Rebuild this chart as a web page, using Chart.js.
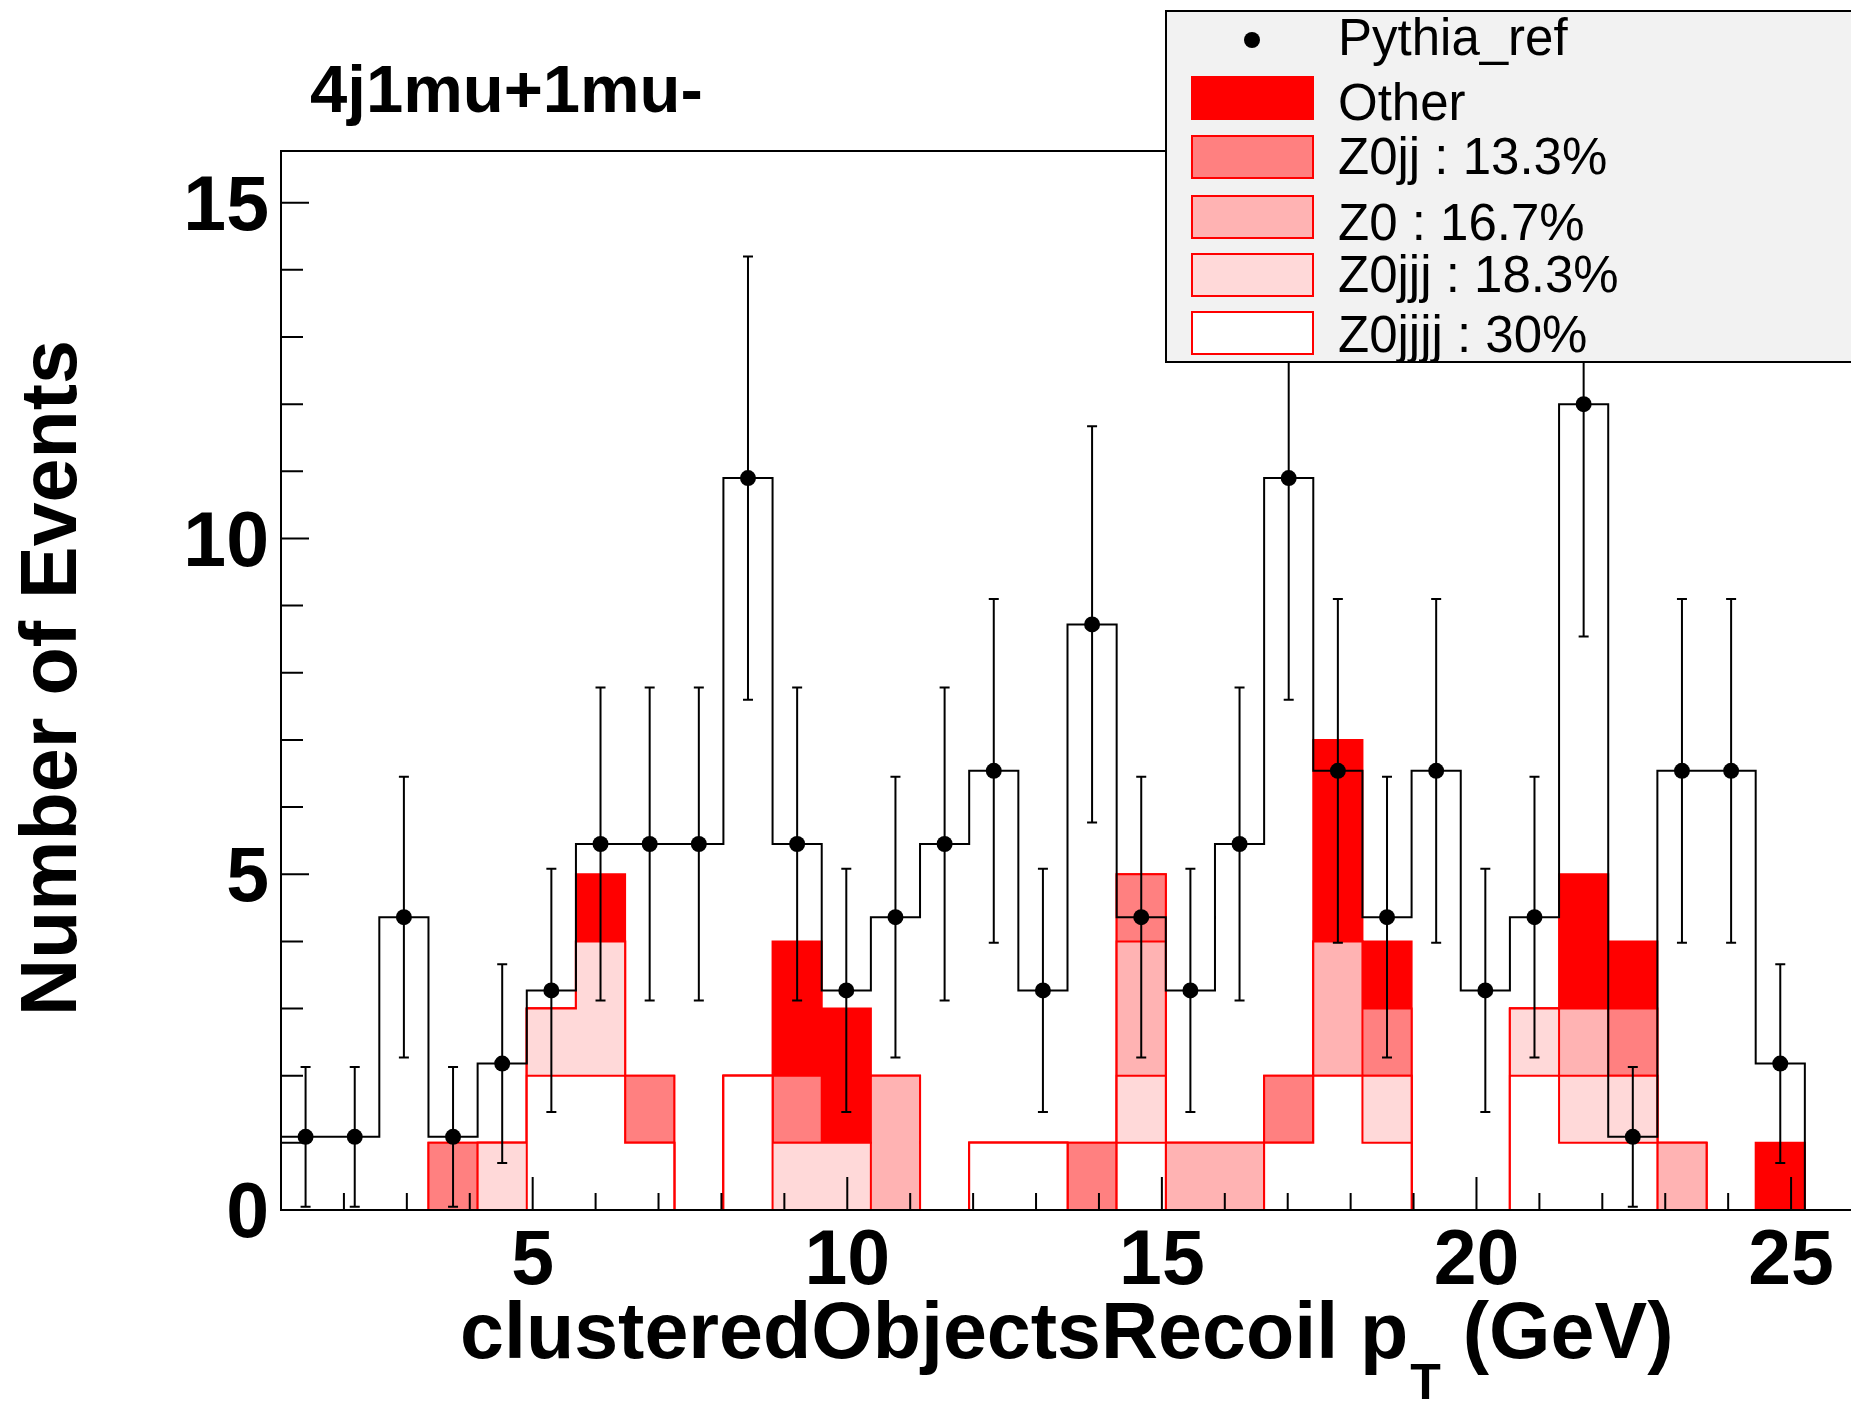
<!DOCTYPE html>
<html><head><meta charset="utf-8">
<script src="https://cdn.jsdelivr.net/npm/chart.js@4.4.1/dist/chart.umd.min.js"></script>
<style>
html,body{margin:0;padding:0;background:#fff;overflow:hidden;}
#c{position:absolute;left:0;top:0;width:1854px;height:1402px;}
</style></head><body>
<canvas id="c" width="1854" height="1402"></canvas>
<script>
// ---------------- data ----------------
const binLow = 1, binHigh = 26, nBins = 32;
const xTickValues = [5, 10, 15, 20, 25];
const yTickValues = [0, 5, 10, 15];
const yMax = 15.77;

// Pythia_ref (points + black histogram)
const dataValues = [1.09,1.09,4.36,1.09,2.18,3.27,5.45,5.45,5.45,10.9,5.45,3.27,4.36,5.45,6.54,3.27,8.72,4.36,3.27,5.45,10.9,6.54,4.36,6.54,3.27,4.36,12.0,1.09,6.54,6.54,2.18,0];
const dataErrors = [1.04,1.04,2.09,1.04,1.48,1.81,2.33,2.33,2.33,3.30,2.33,1.81,2.09,2.33,2.56,1.81,2.95,2.09,1.81,2.33,3.30,2.56,2.09,2.56,1.81,2.09,3.46,1.04,2.56,2.56,1.48,0];

// stacked MC components (bottom to top)
const z0jjjj = [0,0,0,0,0,2,2,1,0,2, 0,0,0,0,1,1,0,1,0,0, 1,2,1,0,0,2,1,1,0,0, 0,0];
const z0jjj  = [0,0,0,0,1,1,2,0,0,0, 1,1,0,0,0,0,0,1,0,0, 0,0,1,0,0,1,1,1,0,0, 0,0];
const z0     = [0,0,0,0,0,0,0,0,0,0, 0,0,2,0,0,0,0,2,1,1, 0,2,0,0,0,0,1,0,1,0, 0,0];
const z0jj   = [0,0,0,1,0,0,0,1,0,0, 1,0,0,0,0,0,1,1,0,0, 1,0,1,0,0,0,0,1,0,0, 0,0];
const other  = [0,0,0,0,0,0,1,0,0,0, 2,2,0,0,0,0,0,0,0,0, 0,3,1,0,0,0,2,1,0,0, 1,0];

const stackNames  = ['Z0jjjj', 'Z0jjj', 'Z0', 'Z0jj', 'Other'];
const stackValues = [z0jjjj, z0jjj, z0, z0jj, other];
const stackColors = ['#ffffff', '#ffd9d9', '#ffb3b3', '#ff8080', '#ff0000'];
const dataName = 'Pythia_ref';
const titleText = '4j1mu+1mu-';
const yTitleText = 'Number of Events';

// ---------------- derived tables ----------------
const binW = (binHigh - binLow) / nBins;
const edge = i => binLow + i * binW;
const center = i => binLow + (i + 0.5) * binW;
function stepPoints(vals) {
  const pts = vals.map((v, i) => ({x: edge(i), y: v}));
  pts.push({x: binHigh, y: vals[vals.length - 1]});
  return pts;
}
const cumulative = [];
stackValues.forEach((arr, k) => {
  cumulative.push(arr.map((v, i) => v + (k ? cumulative[k - 1][i] : 0)));
});
const grandTotal = stackValues.reduce((s, a) => s + a.reduce((p, q) => p + q, 0), 0);
const pct = arr => Math.round(arr.reduce((p, q) => p + q, 0) / grandTotal * 1000) / 10;

const FONT = '"Liberation Sans", Arial, Helvetica, sans-serif';
Chart.defaults.font.family = FONT;

const datasets = [];
datasets.push({ // 0: points
  label: dataName, type: 'line', showLine: false,
  data: dataValues.map((v, i) => ({x: center(i), y: v})).filter(p => p.y > 0),
  pointRadius: 8, pointHoverRadius: 8, pointBackgroundColor: '#000', pointBorderWidth: 0,
  borderColor: '#000'
});
datasets.push({ // 1: black histogram outline
  label: dataName + ' hist', data: stepPoints(dataValues), stepped: true,
  borderColor: '#000', borderWidth: 2, pointRadius: 0, fill: false
});
for (let k = 0; k < stackValues.length; k++) { // 2..6 bottom->top (drawn top first)
  datasets.push({
    label: stackNames[k], data: stepPoints(cumulative[k]), stepped: true,
    borderColor: '#ff0000', borderWidth: 2, backgroundColor: stackColors[k],
    pointRadius: 0, fill: 'origin'
  });
}

const rootPlugin = {
  id: 'rootStyle',
  afterDatasetDraw(chart, args) {
    if (args.index !== 1) return;
    const {ctx, scales: {x, y}} = chart;
    ctx.save();
    ctx.strokeStyle = '#000'; ctx.lineWidth = 2;
    dataValues.forEach((v, i) => {
      if (v <= 0) return;
      const e = dataErrors[i];
      const px = x.getPixelForValue(center(i));
      const y1 = y.getPixelForValue(v - e), y2 = y.getPixelForValue(v + e);
      ctx.beginPath();
      ctx.moveTo(px, y1); ctx.lineTo(px, y2);
      ctx.moveTo(px - 5, y1); ctx.lineTo(px + 5, y1);
      ctx.moveTo(px - 5, y2); ctx.lineTo(px + 5, y2);
      ctx.stroke();
    });
    ctx.restore();
  },
  afterDatasetsDraw(chart) {
    const {ctx, chartArea: a, scales: {x, y}} = chart;
    ctx.save();
    ctx.strokeStyle = '#000'; ctx.lineWidth = 2;
    ctx.beginPath();
    ctx.moveTo(a.right, a.top); ctx.lineTo(a.left, a.top);
    ctx.lineTo(a.left, a.bottom); ctx.lineTo(a.right, a.bottom);
    ctx.stroke();
    ctx.beginPath();
    for (let v = Math.ceil(binLow); v <= binHigh; v++) {
      const px = x.getPixelForValue(v);
      const len = v % 5 === 0 ? 33 : 17;
      ctx.moveTo(px, a.bottom); ctx.lineTo(px, a.bottom - len);
    }
    for (let v = 0; v <= Math.floor(yMax); v++) {
      const py = y.getPixelForValue(v);
      const len = v % 5 === 0 ? 28 : 22;
      ctx.moveTo(a.left, py); ctx.lineTo(a.left + len, py);
    }
    ctx.stroke();
    ctx.restore();
  },
  afterDraw(chart) {
    const {ctx} = chart;
    ctx.save();
    ctx.fillStyle = '#000';
    // title
    ctx.font = 'bold 67px ' + FONT;
    ctx.textBaseline = 'alphabetic'; ctx.textAlign = 'left';
    ctx.fillText(titleText, 310, 112);
    // x title with subscript
    ctx.font = 'bold 79px ' + FONT;
    let xx = 460;
    const part1 = 'clusteredObjectsRecoil p';
    ctx.fillText(part1, xx, 1358); xx += ctx.measureText(part1).width;
    ctx.font = 'bold 50px ' + FONT;
    ctx.fillText('T', xx + 2, 1399); xx += ctx.measureText('T').width + 2;
    ctx.font = 'bold 79px ' + FONT;
    ctx.fillText(' (GeV)', xx, 1358);
    // y title
    ctx.save();
    ctx.translate(76, 678); ctx.rotate(-Math.PI / 2);
    ctx.textAlign = 'center';
    ctx.font = 'bold 79px ' + FONT;
    ctx.fillText(yTitleText, 0, 0);
    ctx.restore();
    // legend
    ctx.fillStyle = '#f2f2f2';
    ctx.fillRect(1166, 11, 700, 351);
    ctx.strokeStyle = '#000'; ctx.lineWidth = 2;
    ctx.strokeRect(1166, 11, 700, 351);
    ctx.font = '51px ' + FONT;
    ctx.textAlign = 'left'; ctx.fillStyle = '#000';
    ctx.beginPath(); ctx.arc(1252, 40, 8, 0, Math.PI * 2); ctx.fill();
    ctx.fillText(dataName, 1338, 55);
    const rowsTop = [77, 136, 196, 254, 312];
    const rowsBase = [120, 174, 240, 292, 352];
    for (let r = 0; r < 5; r++) {
      const k = stackNames.length - 1 - r;
      ctx.fillStyle = stackColors[k];
      ctx.fillRect(1192, rowsTop[r], 121, 42);
      ctx.strokeStyle = '#ff0000'; ctx.lineWidth = 2;
      ctx.strokeRect(1192, rowsTop[r], 121, 42);
      ctx.fillStyle = '#000';
      const lbl = stackNames[k] === 'Other' ? 'Other' : stackNames[k] + ' : ' + pct(stackValues[k]) + '%';
      ctx.fillText(lbl, 1338, rowsBase[r]);
    }
    ctx.restore();
  }
};

const tickFont = {family: FONT, weight: 'bold', size: 77, lineHeight: 1};
new Chart(document.getElementById('c'), {
  type: 'line',
  data: {datasets},
  options: {
    responsive: false, maintainAspectRatio: false, animation: false,
    devicePixelRatio: 1, events: [],
    layout: {autoPadding: false, padding: {left: 0, top: 151, right: 0, bottom: 0}},
    plugins: {legend: {display: false}, tooltip: {enabled: false}, title: {display: false}},
    elements: {line: {tension: 0}},
    scales: {
      x: {
        type: 'linear', min: binLow, max: binHigh,
        afterBuildTicks: ax => { ax.ticks = xTickValues.map(v => ({value: v})); },
        ticks: {font: tickFont, color: '#000', padding: 14, autoSkip: false, maxRotation: 0},
        grid: {display: false, drawTicks: false}, border: {display: false},
        afterFit: s => { s.height = 192; s.paddingLeft = 0; s.paddingRight = 0; }
      },
      y: {
        type: 'linear', min: 0, max: yMax,
        afterBuildTicks: ax => { ax.ticks = yTickValues.map(v => ({value: v})); },
        ticks: {font: tickFont, color: '#000', padding: 12, labelOffset: 6, autoSkip: false},
        grid: {display: false, drawTicks: false}, border: {display: false},
        afterFit: s => { s.width = 281; s.paddingTop = 0; s.paddingBottom = 0; }
      }
    }
  },
  plugins: [rootPlugin]
});
</script>
</body></html>
